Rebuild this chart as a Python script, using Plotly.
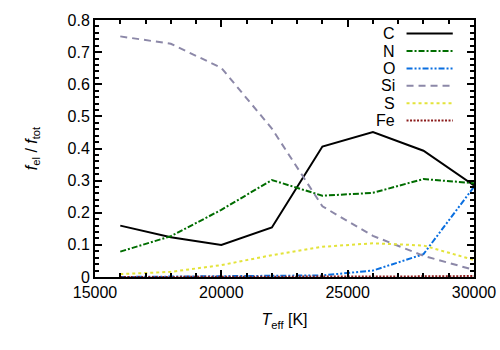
import plotly.graph_objects as go

# effective temperature grid [K]
teff = [16000, 18000, 20000, 22000, 24000, 26000, 28000, 30000]

# fraction of total line force per element
f_C = [0.160, 0.124, 0.100, 0.154, 0.406, 0.451, 0.393, 0.285]
f_N = [0.079, 0.127, 0.209, 0.302, 0.253, 0.262, 0.305, 0.292]
f_O = [0.000, 0.001, 0.002, 0.003, 0.005, 0.020, 0.071, 0.281]
f_Si = [0.749, 0.726, 0.651, 0.462, 0.220, 0.128, 0.066, 0.022]
f_S = [0.009, 0.016, 0.037, 0.068, 0.094, 0.105, 0.098, 0.053]
f_Fe = [0.000, 0.000, 0.000, 0.000, 0.001, 0.002, 0.002, 0.003]

names = ["C", "N", "O", "Si", "S", "Fe"]
series = [f_C, f_N, f_O, f_Si, f_S, f_Fe]
colors = ["#000000", "#006d00", "#0a6fe0", "#8c88a8", "#e3e33a", "#8b1c1c"]
dashes = ["solid", "6px,2px,2px,2px", "6px,2px,2px,2px,2px,2px", "7px,5px", "3px,3px", "2px,1.5px"]

FONT = "Liberation Sans, Arial, sans-serif"

fig = go.Figure()
for name, y, c, d in zip(names, series, colors, dashes):
    fig.add_trace(go.Scatter(x=teff, y=y, mode="lines", name=name,
                             line=dict(color=c, width=2, dash=d), showlegend=False))

# gnuplot-style key: right-aligned label, sample line to its right
row_h = 17.4 / 257
for i, (name, c, d) in enumerate(zip(names, colors, dashes)):
    yp = 0.947 - i * row_h
    fig.add_annotation(x=0.797, y=yp, xref="paper", yref="paper", text=name,
                       showarrow=False, xanchor="right", yanchor="middle",
                       font=dict(family=FONT, size=16, color="black"))
    fig.add_shape(type="line", xref="paper", yref="paper", x0=0.822, x1=0.944,
                  y0=yp, y1=yp, line=dict(color=c, width=2, dash=d))

axis_common = dict(showline=True, linewidth=2, linecolor="black", mirror="allticks",
                   ticks="inside", ticklen=7, tickwidth=1.5, tickcolor="black",
                   showgrid=False, zeroline=False, automargin=False,
                   tickfont=dict(family=FONT, size=16, color="black"))

fig.update_xaxes(range=[15000, 30000], dtick=5000, tickformat="d",
                 minor=dict(dtick=1000, ticks="inside", ticklen=4, tickcolor="black"),
                 title=dict(text="<i>T</i><sub>eff</sub> [K]", standoff=14,
                            font=dict(family=FONT, size=16, color="black")),
                 **axis_common)
fig.update_yaxes(range=[0, 0.8], dtick=0.1,
                 minor=dict(dtick=0.02, ticks="inside", ticklen=4, tickcolor="black"),
                 title=dict(text="<i>f</i><sub>el</sub> / <i>f</i><sub>tot</sub>", standoff=26,
                            font=dict(family=FONT, size=16, color="black")),
                 **axis_common)

fig.update_layout(width=500, height=350, margin=dict(l=95, r=26, t=20, b=73),
                  plot_bgcolor="white", paper_bgcolor="white",
                  font=dict(family=FONT, size=16, color="black"))

# drop the default page margin so the 500x350 figure fills the window exactly
fig.write_html("out.html", config={"displayModeBar": False},
               post_script="document.body.style.margin='0';document.body.style.overflow='hidden';")
